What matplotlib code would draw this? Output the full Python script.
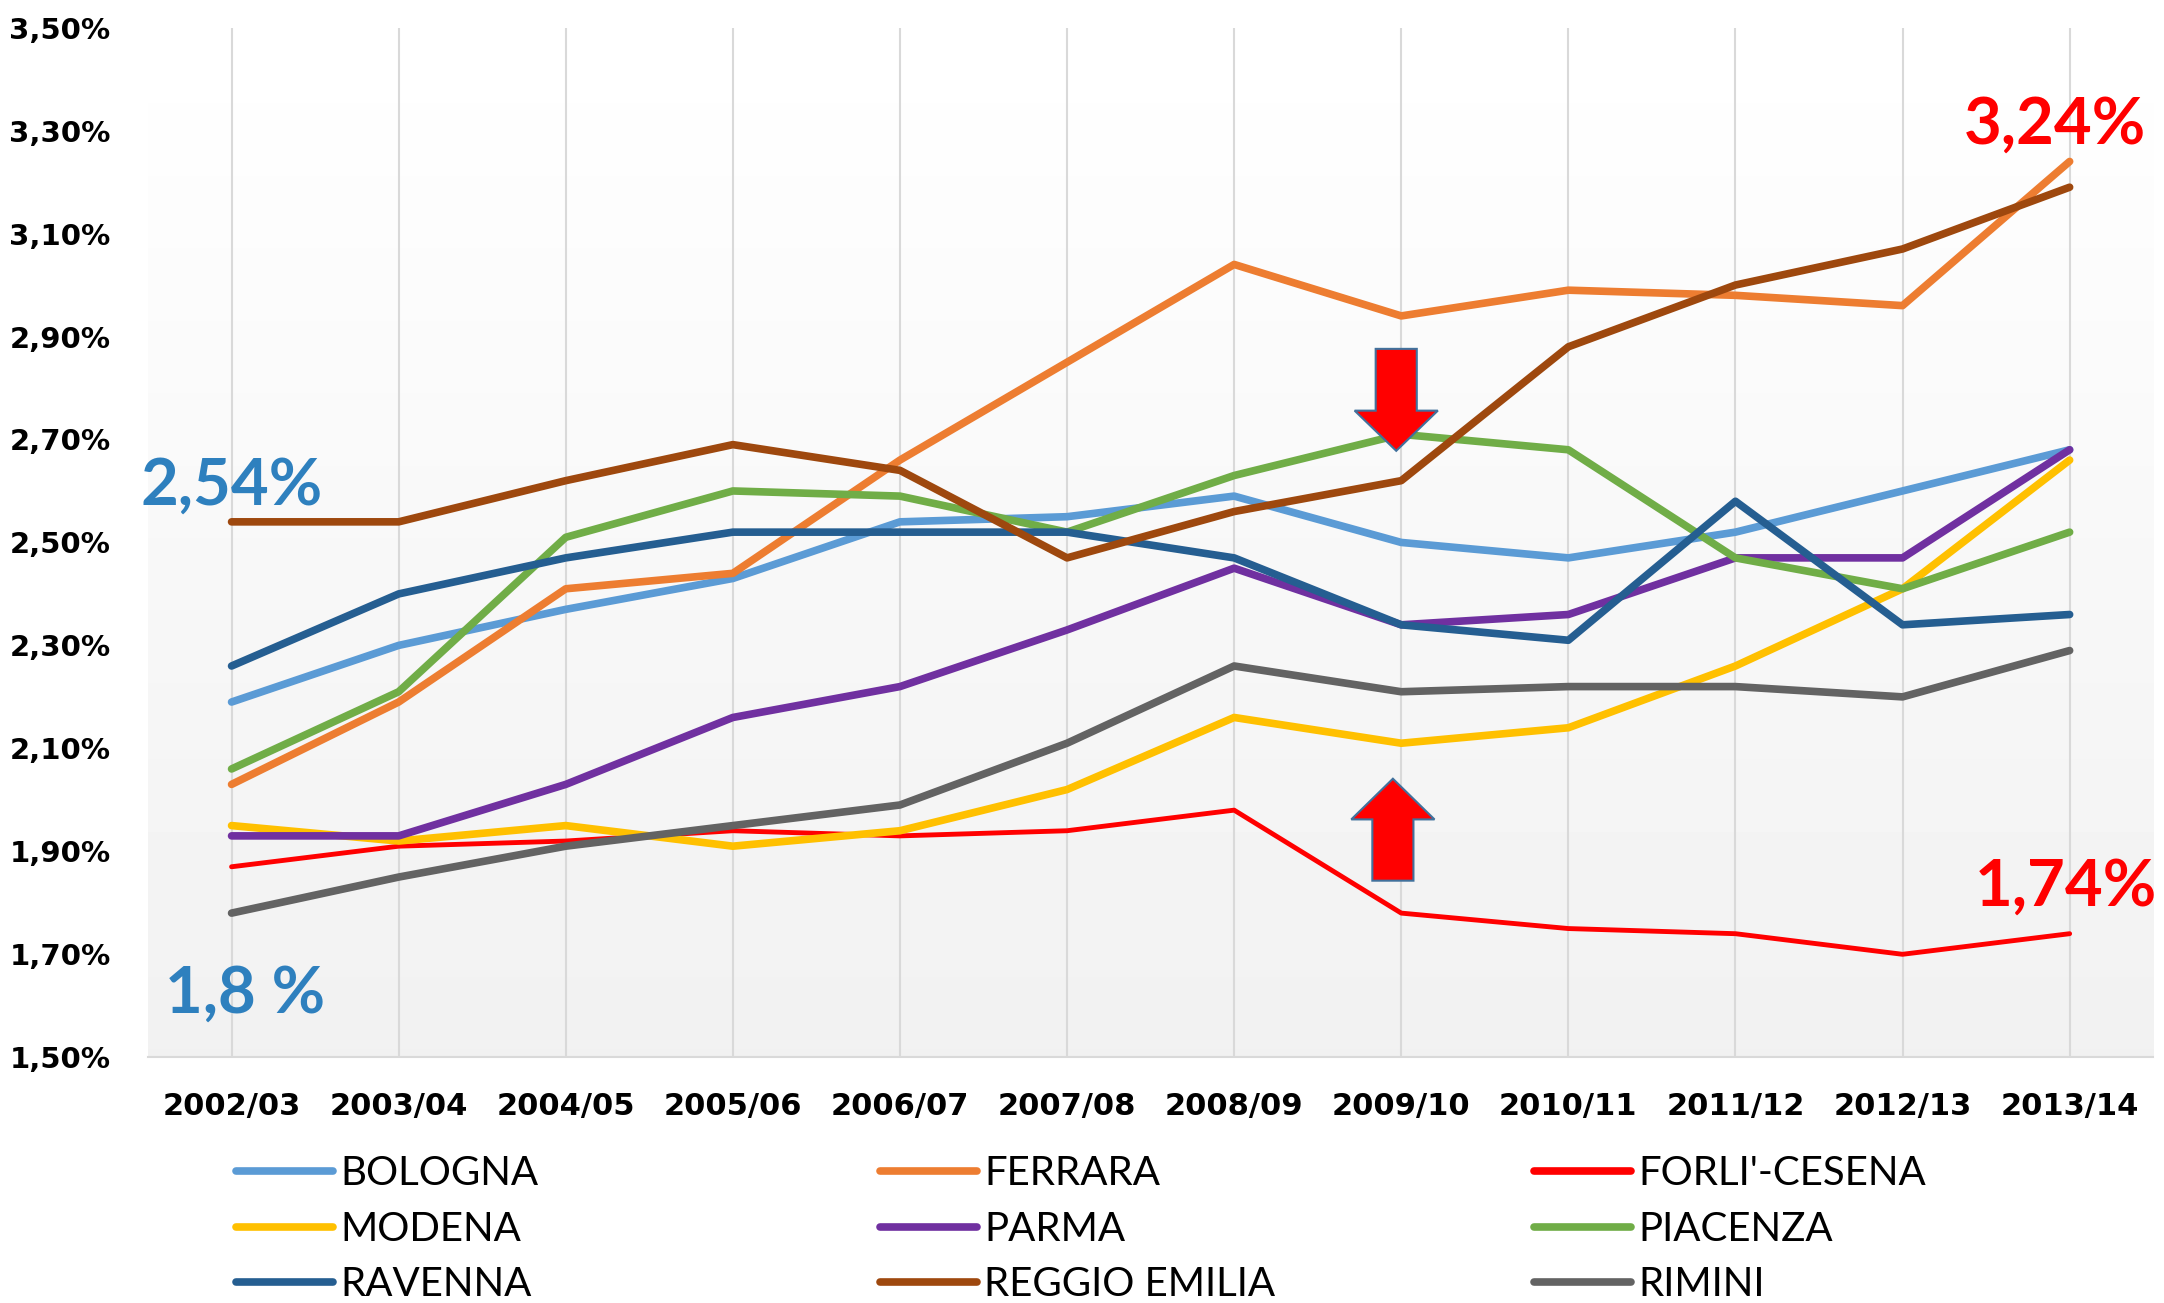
import numpy as np
import matplotlib
matplotlib.use("Agg")
import matplotlib.pyplot as plt
from matplotlib.patches import Polygon

years = ["2002/03", "2003/04", "2004/05", "2005/06", "2006/07", "2007/08",
         "2008/09", "2009/10", "2010/11", "2011/12", "2012/13", "2013/14"]

bologna = [2.19, 2.30, 2.37, 2.43, 2.54, 2.55, 2.59, 2.50, 2.47, 2.52, 2.60, 2.68]
ferrara = [2.03, 2.19, 2.41, 2.44, 2.66, 2.85, 3.04, 2.94, 2.99, 2.98, 2.96, 3.24]
forli = [1.87, 1.91, 1.92, 1.94, 1.93, 1.94, 1.98, 1.78, 1.75, 1.74, 1.70, 1.74]
modena = [1.95, 1.92, 1.95, 1.91, 1.94, 2.02, 2.16, 2.11, 2.14, 2.26, 2.41, 2.66]
parma = [1.93, 1.93, 2.03, 2.16, 2.22, 2.33, 2.45, 2.34, 2.36, 2.47, 2.47, 2.68]
piacenza = [2.06, 2.21, 2.51, 2.60, 2.59, 2.52, 2.63, 2.71, 2.68, 2.47, 2.41, 2.52]
ravenna = [2.26, 2.40, 2.47, 2.52, 2.52, 2.52, 2.47, 2.34, 2.31, 2.58, 2.34, 2.36]
reggio = [2.54, 2.54, 2.62, 2.69, 2.64, 2.47, 2.56, 2.62, 2.88, 3.00, 3.07, 3.19]
rimini = [1.78, 1.85, 1.91, 1.95, 1.99, 2.11, 2.26, 2.21, 2.22, 2.22, 2.20, 2.29]

names = ["BOLOGNA", "FERRARA", "FORLI'-CESENA", "MODENA", "PARMA", "PIACENZA",
         "RAVENNA", "REGGIO EMILIA", "RIMINI"]
series = [bologna, ferrara, forli, modena, parma, piacenza, ravenna, reggio, rimini]
colors = ["#5B9BD5", "#ED7D31", "#FF0000", "#FFC000", "#7030A0", "#70AD47",
          "#255E91", "#9E480E", "#636363"]
widths = [5.5, 5.5, 3.5, 5.5, 5.5, 5.5, 5.5, 5.5, 5.5]

yticks = np.arange(1.5, 3.51, 0.2)

fig = plt.figure(figsize=(21.64, 13.03), dpi=100)
ax = fig.add_axes([0.0684, 0.1886, 0.9266, 0.7902])

# light gradient background, white on top
grad = np.linspace(1.0, 0.945, 256).reshape(-1, 1)
ax.imshow(grad, cmap="gray", vmin=0, vmax=1, aspect="auto",
          extent=[-0.5, 11.5, 1.5, 3.5], zorder=0)

x = np.arange(len(years))
lines = []
for name, vals, c, w in zip(names, series, colors, widths):
    ln, = ax.plot(x, vals, color=c, lw=w, solid_capstyle="round",
                  solid_joinstyle="round", label=name, zorder=3)
    lines.append(ln)

ax.set_xlim(-0.5, 11.5)
ax.set_ylim(1.5, 3.5)
ax.set_xticks(x)
ax.set_xticklabels(years, fontsize=22, fontweight="bold")
ax.set_yticks(yticks)
ax.set_yticklabels([f"{v:.2f}%".replace(".", ",") for v in yticks],
                   fontsize=21, fontweight="bold")
ax.tick_params(axis="both", length=0)
ax.tick_params(axis="y", pad=27)
ax.tick_params(axis="x", pad=25)
ax.grid(axis="x", color="#d9d9d9", lw=1.5, zorder=1)
for s in ["top", "left", "right"]:
    ax.spines[s].set_visible(False)
ax.spines["bottom"].set_color("#d9d9d9")
ax.spines["bottom"].set_linewidth(1.5)

# highlighted values
ann = dict(fontsize=47, fontweight="bold", family="Lato", ha="center", va="center", zorder=5)
ax.text(0.0, 2.61, "2,54%", color="#2E80BE", **ann)
ax.text(0.08, 1.623, "1,8 %", color="#2E80BE", **ann)
ax.text(10.91, 3.31, "3,24%", color="#FF0000", **ann)
ax.text(10.98, 1.83, "1,74%", color="#FF0000", **ann)

# arrows
def block_arrow(cx, base, neck, tip, sw=0.123, hw=0.249):
    pts = [(cx - sw, base), (cx + sw, base), (cx + sw, neck), (cx + hw, neck),
           (cx, tip), (cx - hw, neck), (cx - sw, neck)]
    ax.add_patch(Polygon(pts, closed=True, facecolor="#FF0000",
                         edgecolor="#41719C", lw=1.5, zorder=6))

block_arrow(6.97, 2.876, 2.756, 2.678)
block_arrow(6.95, 1.843, 1.962, 2.041)

# title, cropped at the top of the picture
fig.text(0.504, 0.996, "EMILIA-ROMAGNA  TOTALE 12 ANNI", ha="center", va="bottom",
         fontsize=26, fontweight="bold")

# legend: three columns
col_x = [0.1092, 0.4068, 0.7090]
for c in range(3):
    idx = list(range(c, 9, 3))
    leg = fig.legend([lines[i] for i in idx], [names[i] for i in idx],
                     loc="upper left", bbox_to_anchor=(col_x[c], 0.1135),
                     frameon=False, prop={"family": "Lato", "size": 29},
                     handlelength=2.4, handletextpad=0.18, labelspacing=0.46,
                     borderpad=0, borderaxespad=0)
    for h in leg.legend_handles:
        h.set_linewidth(5.5)
        h.set_solid_capstyle("round")

fig.savefig("out.png", dpi=100)
